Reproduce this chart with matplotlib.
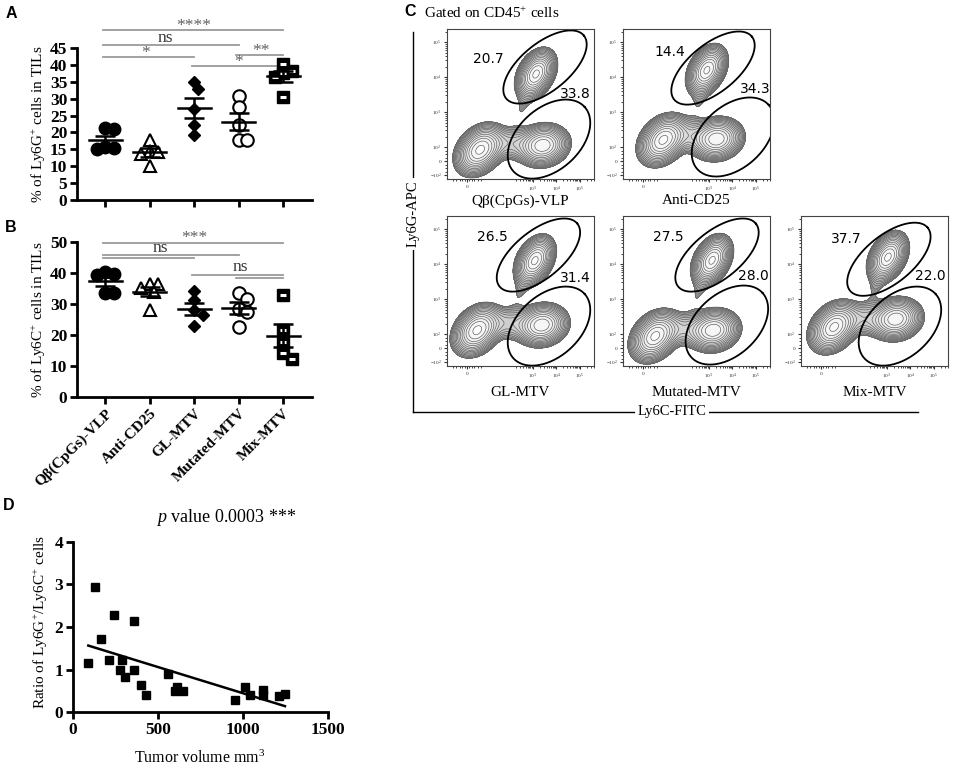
import numpy as np
import matplotlib
matplotlib.use("Agg")
import matplotlib.pyplot as plt
from matplotlib.colors import to_rgb

plt.rcParams['mathtext.fontset'] = 'custom'
plt.rcParams['mathtext.rm'] = 'Liberation Serif'
plt.rcParams['mathtext.it'] = 'Liberation Serif:italic'
plt.rcParams['mathtext.bf'] = 'Liberation Serif:bold'
plt.rcParams['font.family'] = ['Liberation Serif', 'DejaVu Serif']

W, H = 957, 770

# ---------------- data ----------------
groups = ["Qβ(CpGs)-VLP", "Anti-CD25", "GL-MTV", "Mutated-MTV", "Mix-MTV"]

ly6g_qb = [21.0, 21.2, 15.0, 15.3, 15.6]
ly6g_cd25 = [17.8, 14.5, 14.3, 13.6, 10.2]
ly6g_gl = [35.0, 32.8, 26.8, 22.3, 19.3]
ly6g_mut = [30.7, 27.5, 22.3, 17.8, 17.8]
ly6g_mix = [40.3, 38.2, 37.5, 36.5, 30.5]

ly6c_qb = [40.3, 39.6, 39.4, 33.4, 33.4]
ly6c_cd25 = [36.5, 36.3, 35.2, 33.8, 28.0]
ly6c_gl = [34.0, 31.2, 28.0, 26.5, 22.8]
ly6c_mut = [33.6, 31.5, 28.4, 27.5, 22.7]
ly6c_mix = [32.9, 21.6, 17.8, 14.3, 12.4]

# significance brackets: (from group, to group, label, line level, label x, label level)
ly6g_sig = [(0, 4, "****", 50.3, 2.0, 51.4), (0, 3, "ns", 45.9, 1.35, 47.9),
            (0, 2, "*", 42.3, 0.9, 43.4), (3, 4, "**", 42.9, 3.5, 44.0),
            (2, 4, "*", 39.7, 3.0, 40.8)]
ly6c_sig_lines = [(0, 4, 49.7), (0, 3, 45.7), (0, 2, 44.8), (2, 4, 39.3), (3, 4, 38.4)]
ly6c_sig_text = [(2.0, "***", 51.2), (1.25, "ns", 47.9), (3.04, "ns", 41.9)]

tumor_volume = [90, 129, 165, 214, 241, 276, 290, 306, 361, 361, 398, 429, 557, 600, 610, 645,
                953, 1012, 1041, 1116, 1120, 1214, 1247]
ratio = [1.16, 2.94, 1.71, 1.22, 2.28, 0.99, 1.22, 0.83, 2.14, 0.99, 0.64, 0.41, 0.90, 0.51, 0.60,
         0.51, 0.30, 0.60, 0.41, 0.52, 0.41, 0.38, 0.43]

gate_top_pct = [20.7, 14.4, 26.5, 27.5, 37.7]
gate_bottom_pct = [33.8, 34.3, 31.4, 28.0, 22.0]

# flow populations per tile (centres in display-decade units)
pop_upper = [(2.94, 2.49), (2.72, 2.60), (2.89, 2.50), (2.94, 2.51), (2.85, 2.60)]
pop_lowright = [(3.23, 0.45), (3.15, 0.63), (3.19, 0.66), (3.00, 0.51), (3.19, 0.83)]
pop_lowleft = [(0.55, 0.32), (0.85, 0.60), (0.43, 0.51), (0.51, 0.34), (0.55, 0.60)]
gate_up_centre = [(3.32, 2.69), (2.98, 2.66), (3.04, 2.66), (3.15, 2.66), (2.89, 2.54)]
gate_lo_centre = [(3.49, 0.63), (3.83, 0.69), (3.49, 0.63), (3.57, 0.66), (3.36, 0.63)]

fig = plt.figure(figsize=(W / 100, H / 100), dpi=100)


def px_axes(l, t, r, b):
    return fig.add_axes([l / W, 1 - b / H, (r - l) / W, (b - t) / H])


def fx(x):
    return x / W


def fy(y):
    return 1 - y / H


def swarm(vals, ppu_y, ppu_x, dmin=10.0):
    vals = np.asarray(vals, float)
    order = np.argsort(-vals)
    placed = []
    offs = np.zeros(len(vals))
    step = dmin / 2.0
    for i in order:
        y = vals[i] * ppu_y
        for k in [0, 1, -1, 2, -2, 3, -3, 4, -4]:
            x = k * step
            if all((x - px) ** 2 + (y - py) ** 2 >= dmin ** 2 for px, py in placed):
                break
        placed.append((x, y))
        offs[i] = x / ppu_x
    return offs


marker_styles = [
    dict(marker='o', ms=9, mfc='black', mec='black'),
    dict(marker='^', ms=8, mfc='white', mec='black', mew=1.5),
    dict(marker='D', ms=6.5, mfc='black', mec='black'),
    dict(marker='o', ms=9, mfc='white', mec='black', mew=1.5),
    dict(marker='s', ms=8, mfc='black', mec='black'),
]


def dot_panel(ax, series, ymax, ystep, box):
    l, t, r, b = box
    xlim = (-0.63, 4.65)
    ax.set_xlim(*xlim)
    ax.set_ylim(0, ymax)
    ppu_y = (b - t) / ymax
    ppu_x = (r - l) / (xlim[1] - xlim[0])
    for i, vals in enumerate(series):
        offs = swarm(vals, ppu_y, ppu_x, dmin=8.5)
        ax.plot(i + offs, vals, ls='none', clip_on=False, zorder=3, **marker_styles[i])
        if i == 4:
            ax.plot(i + offs, vals, ls='none', marker='_', ms=4.5, mew=2.2, color='white',
                    clip_on=False, zorder=4)
        m = np.mean(vals)
        se = np.std(vals, ddof=1) / np.sqrt(len(vals))
        ax.plot([i - 0.37, i + 0.37], [m, m], color='black', lw=1.8, zorder=5)
        ax.errorbar([i], [m], yerr=[se], color='black', lw=1.8, capsize=7, capthick=1.8,
                    zorder=5, fmt='none')
    for s in ['top', 'right']:
        ax.spines[s].set_visible(False)
    for s in ['left', 'bottom']:
        ax.spines[s].set_linewidth(2)
    ax.set_yticks(np.arange(0, ymax + 0.1, ystep))
    ax.set_xticks(range(5))
    ax.tick_params(axis='both', direction='out', length=5, width=2, pad=2)
    for lab in ax.get_yticklabels():
        lab.set_fontweight('bold')
        lab.set_fontsize(12.5)


# ---------------- Panel A ----------------
boxA = (77, 48, 312, 200)
axA = px_axes(*boxA)
dot_panel(axA, [ly6g_qb, ly6g_cd25, ly6g_gl, ly6g_mut, ly6g_mix], 45, 5, boxA)
axA.set_xticklabels([])
axA.set_ylabel("% of Ly6G$^{+}$ cells in TILs", fontsize=11)
axA.yaxis.set_label_coords(-0.123, 0.5)
for a, b_, lab, yl, xt, yt in ly6g_sig:
    axA.plot([a - 0.05, b_ + 0.0], [yl, yl], color='#9a9a9a', lw=1.3, clip_on=False)
    axA.text(xt, yt, lab, ha='center', va='center',
             fontsize=12.5, color='#333333' if lab == 'ns' else '#606060', clip_on=False)

# ---------------- Panel B ----------------
boxB = (77, 241.7, 312, 397.3)
axB = px_axes(*boxB)
dot_panel(axB, [ly6c_qb, ly6c_cd25, ly6c_gl, ly6c_mut, ly6c_mix], 50, 10, boxB)
axB.set_xticklabels(groups, rotation=45, ha='right', va='top', rotation_mode='anchor',
                    fontsize=11, fontweight='bold')
axB.set_ylabel("% of Ly6C$^{+}$ cells in TILs", fontsize=11)
axB.yaxis.set_label_coords(-0.123, 0.5)
for a, b_, yl in ly6c_sig_lines:
    axB.plot([a - 0.05, b_], [yl, yl], color='#9a9a9a', lw=1.3, clip_on=False)
for xt, lab, yt in ly6c_sig_text:
    axB.text(xt, yt, lab, ha='center', va='center', fontsize=12.5,
             color='#333333' if lab == 'ns' else '#606060', clip_on=False)

# ---------------- Panel D ----------------
boxD = (73, 541.7, 328, 712.3)
axD = px_axes(*boxD)
axD.plot(tumor_volume, ratio, ls='none', marker='s', ms=6, color='black', clip_on=False, zorder=3)
k, c0 = np.polyfit(tumor_volume, ratio, 1)
xs = np.array([min(tumor_volume), max(tumor_volume)])
axD.plot(xs, k * xs + c0, color='black', lw=1.8)
axD.set_xlim(0, 1500)
axD.set_ylim(0, 4)
axD.set_xticks([0, 500, 1000, 1500])
axD.set_yticks([0, 1, 2, 3, 4])
for s in ['top', 'right']:
    axD.spines[s].set_visible(False)
for s in ['left', 'bottom']:
    axD.spines[s].set_linewidth(2)
axD.tick_params(axis='both', direction='out', length=5, width=2, labelsize=12.5, pad=2)
for lab in axD.get_xticklabels() + axD.get_yticklabels():
    lab.set_fontweight('bold')
axD.set_ylabel("Ratio of Ly6G$^{+}$/Ly6C$^{+}$ cells", fontsize=11)
axD.yaxis.set_label_coords(-0.09, 0.53)
fig.text(fx(200), fy(758), "Tumor volume mm$^{3}$", ha='center', va='center', fontsize=11.5)
fig.text(fx(226), fy(518), "$\\it{p}$ value 0.0003 ***", ha='center', va='center', fontsize=13)

# ---------------- panel letters ----------------
for lab, (x, y) in zip("ABCD", [(11, 13), (11, 228), (410, 12), (9, 505)]):
    fig.text(fx(x), fy(y), lab, ha='center', va='center', fontsize=11.5, fontweight='bold',
             family='Liberation Sans')

# ---------------- Panel C ----------------
fig.text(fx(424), fy(13), "Gated on CD45$^{+}$ cells", ha='left', va='center', fontsize=11)

tiles = [(447, 29, 594, 179), (623, 29, 770, 179),
         (447, 216, 594, 366), (623, 216, 770, 366), (801, 216, 948, 366)]
num_pos_top = [(0.28, 0.80), (0.32, 0.85), (0.31, 0.86), (0.31, 0.86), (0.31, 0.85)]
num_pos_bot = [(0.87, 0.57), (0.90, 0.60), (0.87, 0.59), (0.89, 0.60), (0.88, 0.60)]

XR = (-0.85, -0.85 + 147 / 23.5)
YR = (-0.51, -0.51 + 150 / 35.0)
gx = np.linspace(XR[0], XR[1], 320)
gy = np.linspace(YR[0], YR[1], 320)
GX, GY = np.meshgrid(gx, gy)


def gauss(cx, cy, sx, sy, rho, amp):
    dx = (GX - cx) / sx
    dy = (GY - cy) / sy
    q = (dx ** 2 - 2 * rho * dx * dy + dy ** 2) / (1 - rho ** 2)
    return amp * np.exp(-0.5 * q)


def ellipse(ax, cx, cy, a, b, ang):
    t = np.linspace(0, 2 * np.pi, 200)
    th = np.deg2rad(ang)
    ex = a * np.cos(t) * np.cos(th) - b * np.sin(t) * np.sin(th)
    ey = a * np.cos(t) * np.sin(th) + b * np.sin(t) * np.cos(th)
    ax.plot(cx + ex / 23.5, cy + ey / 35.0, color='black', lw=1.3)


x_major = [0, 2.8, 3.8, 4.8]
x_major_lab = ["0", "$10^3$", "$10^4$", "$10^5$"]
y_major = [-0.4, 0, 0.4, 1.4, 2.4, 3.4]
y_major_lab = ["$-10^2$", "0", "$10^2$", "$10^3$", "$10^4$", "$10^5$"]
x_minor = [d + np.log10(m) for d in [1.8, 2.8, 3.8, 4.8] for m in range(2, 10)] + \
          [-0.6, -0.45, -0.3, -0.2, -0.1, 0.1, 0.2, 0.3, 0.45, 0.6]
x_minor = [v for v in x_minor if XR[0] < v < XR[1]]
y_minor = [d + np.log10(m) for d in [0.4, 1.4, 2.4, 3.4] for m in range(2, 10)] + \
          [-0.3, -0.2, -0.1, 0.1, 0.2, 0.3]
y_minor = [v for v in y_minor if YR[0] < v < YR[1]]

levels_rel = np.geomspace(0.035, 0.92, 15)
c_out = np.array(to_rgb('#8a8a8a'))
c_in = np.array(to_rgb('#fbfbfb'))

for i, (l, t, r, b) in enumerate(tiles):
    ax = px_axes(l, t, r, b)
    ux, uy = pop_upper[i]
    rx, ry = pop_lowright[i]
    lx, ly = pop_lowleft[i]
    Z = (gauss(ux, uy, 0.36, 0.30, 0.35, 1.0)
         + gauss(rx, ry, 0.48, 0.26, 0.1, 0.9)
         + gauss(lx, ly, 0.45, 0.31, 0.3, 1.0)
         + gauss((lx + rx) / 2, (ly + ry) / 2 + 0.12, 0.6, 0.25, 0.0, 0.15)
         + gauss((lx + ux) / 2 + 0.6, (ly + uy) / 2 + 0.1, 0.3, 0.35, 0.5, 0.035))
    zmax = Z.max()
    lev = list(levels_rel * zmax) + [zmax * 1.01]
    nb = len(lev) - 1
    cols = [tuple(c_out + (c_in - c_out) * (j / (nb - 1)) ** 0.6) for j in range(nb)]
    ax.contourf(GX, GY, Z, levels=lev, colors=cols)
    ax.contour(GX, GY, Z, levels=lev[:-1], colors='#555555', linewidths=0.45)
    ellipse(ax, gate_up_centre[i][0], gate_up_centre[i][1], 50, 24, 39)
    ellipse(ax, gate_lo_centre[i][0], gate_lo_centre[i][1], 48, 31, 42)
    ax.set_xlim(*XR)
    ax.set_ylim(*YR)
    ax.set_xticks(x_major)
    ax.set_xticklabels(x_major_lab)
    ax.set_yticks(y_major)
    ax.set_yticklabels(y_major_lab)
    ax.set_xticks(x_minor, minor=True)
    ax.set_yticks(y_minor, minor=True)
    ax.tick_params(which='major', length=2.5, width=0.8, labelsize=3.8, pad=1.5, colors='#333333')
    ax.tick_params(which='minor', length=1.5, width=0.5)
    for s in ax.spines.values():
        s.set_linewidth(0.8)
        s.set_color('#444444')
    ax.text(*num_pos_top[i], f"{gate_top_pct[i]:.1f}", transform=ax.transAxes, ha='center',
            va='center', fontsize=10, family='DejaVu Sans')
    ax.text(*num_pos_bot[i], f"{gate_bottom_pct[i]:.1f}", transform=ax.transAxes, ha='center',
            va='center', fontsize=10, family='DejaVu Sans')
    yoff = 22 if t < 100 else 27
    fig.text(fx((l + r) / 2), fy(b + yoff), groups[i], ha='center', va='center', fontsize=11)

# outer L frame of panel C
fig.add_artist(plt.Line2D([fx(413), fx(413)], [fy(32), fy(412)], color='black', lw=1.0))
fig.add_artist(plt.Line2D([fx(413), fx(918)], [fy(412), fy(412)], color='black', lw=1.0))
fig.text(fx(413), fy(214), "Ly6G-APC", rotation=90, ha='center', va='center', fontsize=10.5,
         bbox=dict(facecolor='white', edgecolor='none', pad=2))
fig.text(fx(672), fy(412), "Ly6C-FITC", ha='center', va='center', fontsize=10.5,
         bbox=dict(facecolor='white', edgecolor='none', pad=2))

fig.savefig("out.png", dpi=100)
